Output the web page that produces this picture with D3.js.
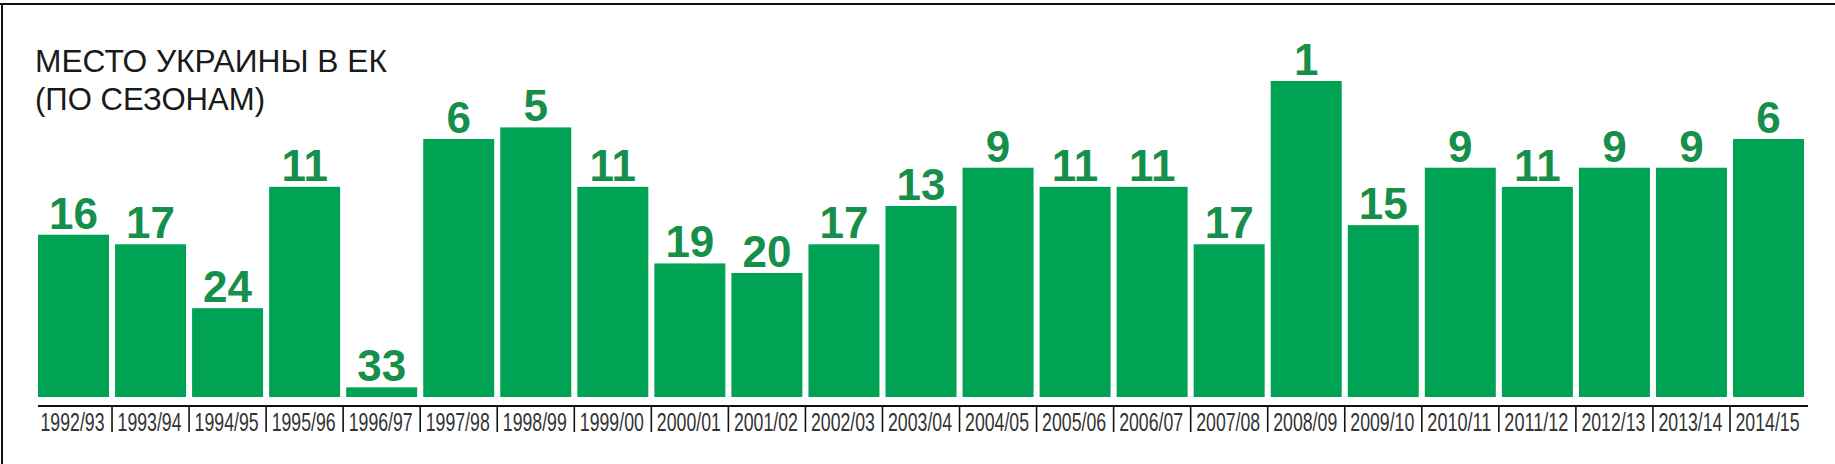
<!DOCTYPE html>
<html>
<head>
<meta charset="utf-8">
<script src="https://cdn.jsdelivr.net/npm/d3@7"></script>
<style>
  html, body { margin: 0; padding: 0; background: #fff; }
  svg { display: block; }
</style>
</head>
<body>
<svg id="chart" width="1835" height="464"></svg>
<script>
const seasons = ["1992/93","1993/94","1994/95","1995/96","1996/97","1997/98","1998/99","1999/00",
  "2000/01","2001/02","2002/03","2003/04","2004/05","2005/06","2006/07","2007/08","2008/09",
  "2009/10","2010/11","2011/12","2012/13","2013/14","2014/15"];
const ranks = [16,17,24,11,33,6,5,11,19,20,17,13,9,11,11,17,1,15,9,11,9,9,6];
const titleLines = ["МЕСТО УКРАИНЫ В ЕК", "(ПО СЕЗОНАМ)"];

const svg = d3.select("#chart");
const W = 1835, H = 464;
const baseY = 397, axisY = 406;
const barColor = "#00a353", labelColor = "#168f4b";
const condensed = "'Liberation Sans Narrow','Arial Narrow','Liberation Sans',Arial,sans-serif";

// frame
svg.append("rect").attr("x", 0).attr("y", 3).attr("width", W).attr("height", 2).attr("fill", "#111");
svg.append("rect").attr("x", 1).attr("y", 3).attr("width", 2).attr("height", H - 3).attr("fill", "#111");

// title
svg.selectAll("text.title").data(titleLines).join("text")
  .attr("class", "title")
  .attr("transform", (d, i) => `translate(35,${72 + i * 38}) scale(1,1.1)`)
  .attr("font-family", condensed)
  .attr("font-size", 28)
  .attr("fill", "#1a1a1a")
  .attr("textLength", (d, i) => i === 0 ? 352 : 230)
  .attr("lengthAdjust", "spacingAndGlyphs")
  .text(d => d);

const x = d3.scaleBand().domain(seasons).range([38, 1804]).paddingInner(0.0785).paddingOuter(0);
const y = d3.scaleLinear().domain([34.1, 20, 6, 1]).range([baseY, 273, 139, 81]);

const data = seasons.map((s, i) => ({ s, r: ranks[i] }));

svg.append("g").selectAll("rect").data(data).join("rect")
  .attr("x", d => x(d.s))
  .attr("y", d => y(d.r))
  .attr("width", x.bandwidth())
  .attr("height", d => baseY - y(d.r))
  .attr("fill", barColor);

svg.append("g").selectAll("text").data(data).join("text")
  .attr("x", d => x(d.s) + x.bandwidth() / 2)
  .attr("y", d => y(d.r) - 6)
  .attr("text-anchor", "middle")
  .attr("font-family", "'Liberation Sans',Arial,sans-serif")
  .attr("font-weight", "bold")
  .attr("font-size", 44)
  .attr("fill", labelColor)
  .text(d => d.r);

// axis
const gap = x.step() - x.bandwidth();
svg.append("line")
  .attr("x1", 38).attr("x2", 1808)
  .attr("y1", axisY).attr("y2", axisY)
  .attr("stroke", "#111").attr("stroke-width", 2);

svg.append("g").selectAll("line").data(seasons.slice(1)).join("line")
  .attr("x1", d => x(d) - gap / 2).attr("x2", d => x(d) - gap / 2)
  .attr("y1", axisY).attr("y2", 432)
  .attr("stroke", "#111").attr("stroke-width", 1.6);

svg.append("g").selectAll("text").data(seasons).join("text")
  .attr("transform", d => `translate(${x(d) + x.bandwidth() / 2 - 1},431) scale(1,1.45)`)
  .attr("text-anchor", "middle")
  .attr("font-family", condensed)
  .attr("font-size", 18)
  .attr("fill", "#333")
  .attr("textLength", 64)
  .attr("lengthAdjust", "spacingAndGlyphs")
  .text(d => d);
</script>
</body>
</html>
